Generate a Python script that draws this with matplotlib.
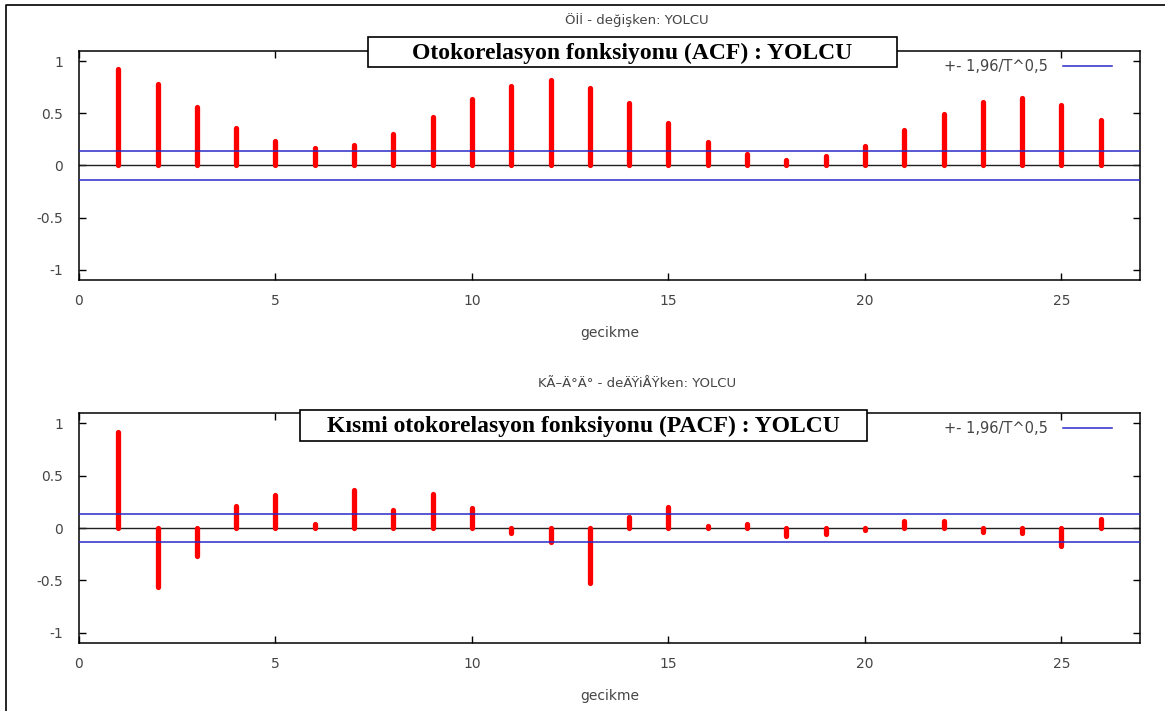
import numpy as np
import matplotlib
matplotlib.use("Agg")
import matplotlib.pyplot as plt
from matplotlib.lines import Line2D
from matplotlib.patches import Rectangle

lags = list(range(1, 27))
acf = [0.93, 0.78, 0.565, 0.365, 0.24, 0.17, 0.20, 0.30, 0.47, 0.635,
       0.765, 0.82, 0.745, 0.60, 0.405, 0.23, 0.11, 0.057, 0.095, 0.19,
       0.34, 0.49, 0.61, 0.65, 0.58, 0.44]
pacf = [0.92, -0.56, -0.27, 0.21, 0.32, 0.04, 0.365, 0.17, 0.33, 0.19,
        -0.05, -0.13, -0.53, 0.11, 0.20, 0.02, 0.04, -0.08, -0.06, -0.02,
        0.07, 0.07, -0.04, -0.05, -0.175, 0.085]
conf = 0.138  # 1,96/T^0,5

titles_small = ["Öİİ - değişken: YOLCU", "KÃ–Ä°Ä° - deÄŸiÅŸken: YOLCU"]
titles_big = ["Otokorelasyon fonksiyonu (ACF) : YOLCU",
              "Kısmi otokorelasyon fonksiyonu (PACF) : YOLCU"]
legend_label = "+- 1,96/T^0,5"
xlabel = "gecikme"

W, H = 1165, 711
GRAY = "#454545"


def fx(x):
    return x / W


def fy(y):
    return 1 - y / H


fig = plt.figure(figsize=(W / 100, H / 100), dpi=100)

# outer frame (left + top only visible)
fig.add_artist(Line2D([fx(6), fx(6), fx(1165)], [fy(711), fy(5), fy(5)],
                      color="black", lw=1.2, transform=fig.transFigure))

panels = [
    dict(vals=acf, top=51, bottom=280, title_y=20, box=(368, 37, 897, 67)),
    dict(vals=pacf, top=413, bottom=643, title_y=384, box=(300, 410, 867, 441)),
]

for i, p in enumerate(panels):
    ax = fig.add_axes([fx(79), fy(p["bottom"]), fx(1140) - fx(79),
                       (p["bottom"] - p["top"]) / H])
    ax.vlines(lags, 0, p["vals"], color="#ff0000", lw=3.8, capstyle="round", zorder=3)
    ax.axhline(0, color="#202020", lw=1.0, zorder=2)
    ax.axhline(conf, color="#2a2ac8", lw=1.1, zorder=4)
    ax.axhline(-conf, color="#2a2ac8", lw=1.1, zorder=4)
    ax.set_xlim(0, 27)
    ax.set_ylim(-1.1, 1.1)
    ax.set_xticks([0, 5, 10, 15, 20, 25])
    ax.set_yticks([-1, -0.5, 0, 0.5, 1])
    ax.set_yticklabels(["-1", "-0.5", "0", "0.5", "1"])
    ax.tick_params(direction="in", top=True, right=True, length=5, width=1,
                   labelsize=10, labelcolor=GRAY, color="black")
    ax.tick_params(axis="x", pad=10)
    ax.tick_params(axis="y", pad=11.5)
    for s in ax.spines.values():
        s.set_linewidth(1.1)
    ax.set_xlabel(xlabel, fontsize=10, color=GRAY, labelpad=13)

    handle = Line2D([], [], color="#2a2ac8", lw=1.1)
    ax.legend([handle], [legend_label], loc="upper right", frameon=False,
              markerfirst=False, fontsize=10.5, handlelength=3.4, handletextpad=1.0,
              bbox_to_anchor=((1118 - 79) / (1140 - 79), 1 - 2 / (p["bottom"] - p["top"])),
              borderaxespad=0, labelcolor=GRAY)

    fig.text(fx(637), fy(p["title_y"]), titles_small[i], ha="center", va="center",
             fontsize=9.5, color=GRAY)
    x0, y0, x1, y1 = p["box"]
    fig.add_artist(Rectangle((fx(x0), fy(y1)), fx(x1) - fx(x0), (y1 - y0) / H,
                             transform=fig.transFigure, fc="white", ec="black",
                             lw=1.2, zorder=10))
    fig.text(fx((x0 + x1) / 2), fy((y0 + y1) / 2 + 1), titles_big[i], ha="center",
             va="center", fontsize=17, fontweight="bold", family="Liberation Serif",
             color="black", zorder=11)

fig.savefig("out.png", dpi=100)
